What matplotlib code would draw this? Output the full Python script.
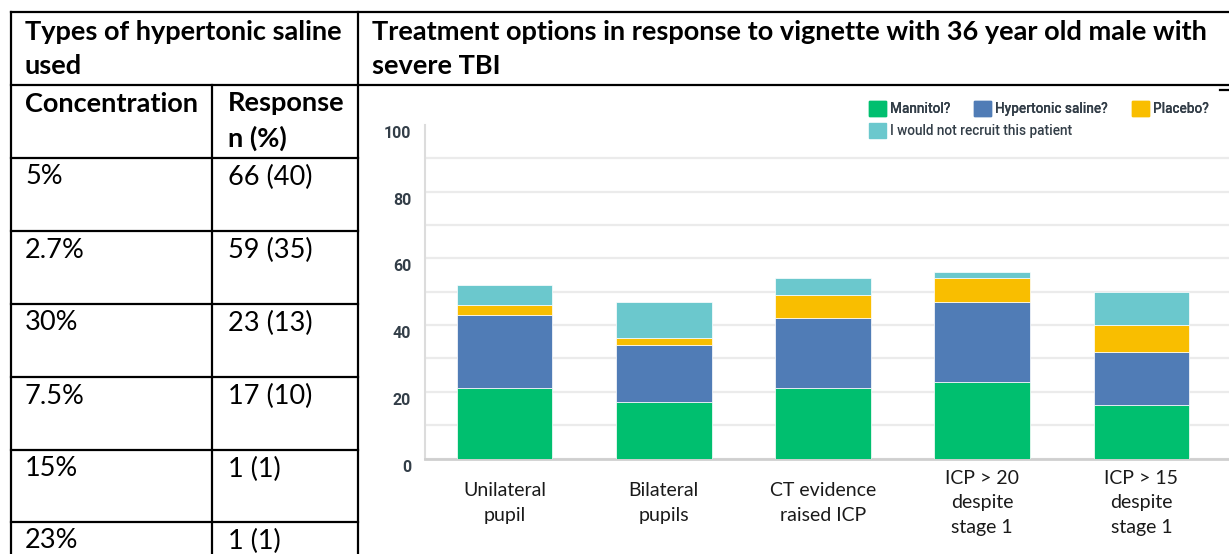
import matplotlib.pyplot as plt
import matplotlib.transforms as mtransforms
from matplotlib.patches import Patch
import numpy as np

# left table
table_title = "Types of hypertonic saline\nused"
col_heads = ["Concentration", "Response\nn (%)"]
concentrations = ["5%", "2.7%", "30%", "7.5%", "15%", "23%"]
responses = ["66 (40)", "59 (35)", "23 (13)", "17 (10)", "1 (1)", "1 (1)"]

# chart
chart_title = "Treatment options in response to vignette with 36 year old male with\nsevere TBI"
scenarios = ["Unilateral\npupil", "Bilateral\npupils", "CT evidence\nraised ICP",
             "ICP > 20\ndespite\nstage 1", "ICP > 15\ndespite\nstage 1"]
mannitol = [21, 17, 21, 23, 16]
hypertonic = [22, 17, 21, 24, 16]
placebo = [3, 2, 7, 7, 8]
no_recruit = [6, 11, 5, 2, 10]
series_names = ["Mannitol?", "Hypertonic saline?", "Placebo?", "I would not recruit this patient"]
colors = ["#00BF6F", "#507CB6", "#F9BE00", "#6BC8CD"]

W, H = 1229, 554
fig = plt.figure(figsize=(W / 100, H / 100), dpi=100)

# page layer in pixel coords
page = fig.add_axes([0, 0, 1, 1])
page.set_xlim(0, W)
page.set_ylim(H, 0)
page.axis("off")

lw = 1.6
row_lines = [158, 231, 304, 377, 450, 522]
page.plot([11, W], [12, 12], color="black", lw=lw)
page.plot([11, W], [85, 85], color="black", lw=lw)
page.plot([1220, W], [90, 90], color="black", lw=lw)
page.plot([11, 11], [12, H], color="black", lw=lw)
page.plot([358, 358], [12, H], color="black", lw=lw)
page.plot([212, 212], [85, H], color="black", lw=lw)
for y in row_lines:
    page.plot([11, 358], [y, y], color="black", lw=lw)

tfont = dict(family="Lato", fontsize=19.5, color="black")
page.text(25, 49, table_title, fontweight="bold", va="center", linespacing=1.5, **tfont)
page.text(372, 49, chart_title, fontweight="bold", va="center", linespacing=1.5, **tfont)
page.text(25, 104, col_heads[0], fontweight="bold", va="center", **tfont)
page.text(228, 121, col_heads[1], fontweight="bold", va="center", linespacing=1.5, **tfont)
for y, c, r in zip(row_lines, concentrations, responses):
    page.text(25, y + 19, c, va="center", **tfont)
    page.text(228, y + 19, r, va="center", **tfont)

# stacked bar chart
ax = fig.add_axes([425 / W, 1 - 458.5 / H, (W - 425) / W, (458.5 - 125) / H])
x = np.arange(len(scenarios))
bottom = np.zeros(len(scenarios))
handles = []
for vals, name, col in zip([mannitol, hypertonic, placebo, no_recruit], series_names, colors):
    ax.bar(x, vals, bottom=bottom, width=0.6, color=col, edgecolor="white", linewidth=0.5, zorder=3)
    bottom += np.array(vals)
    handles.append(Patch(facecolor=col, edgecolor=col, label=name))

ax.set_xlim(-0.5, 4.55)
ax.set_ylim(0, 100)
ax.set_yticks(range(0, 101, 20))
ax.set_yticks(range(10, 100, 20), minor=True)
ax.grid(axis="y", which="both", color="#EBEBEB", lw=1.6, zorder=0)
ax.yaxis.get_gridlines()[-1].set_visible(False)
ax.set_xticks(x)
ax.set_xticklabels(scenarios, family="Lato", fontsize=14, color="#1a1a1a", linespacing=1.55)
for t in ax.get_xticklabels():
    t.set_va("center")
ax.tick_params(axis="x", length=0, pad=32)
ax.tick_params(axis="y", which="both", length=0, pad=10, labelsize=11.5, labelcolor="#333E48")
shift = mtransforms.ScaledTranslation(0, -7 / 100, fig.dpi_scale_trans)
for t in ax.get_yticklabels():
    t.set_family("Roboto")
    t.set_fontweight("bold")
    t.set_transform(t.get_transform() + shift)
for s in ["top", "right"]:
    ax.spines[s].set_visible(False)
ax.spines["left"].set_color("#DCDCDC")
ax.spines["left"].set_linewidth(1.5)
ax.spines["bottom"].set_color("#CFCFCF")
ax.spines["bottom"].set_linewidth(2)
ax.set_facecolor("none")

leg_font = dict(family="Roboto", weight="medium", size=9.8)
leg1 = fig.legend(handles=handles[:3], ncol=3, loc="upper left",
                  bbox_to_anchor=(869 / W, 1 - 101 / H), frameon=False, prop=leg_font,
                  handlelength=1.25, handleheight=1.3, handletextpad=0.3, columnspacing=1.75,
                  borderpad=0, borderaxespad=0, labelcolor="#333E48")
fig.add_artist(leg1)
fig.legend(handles=handles[3:], loc="upper left",
           bbox_to_anchor=(869 / W, 1 - 123 / H), frameon=False, prop=leg_font,
           handlelength=1.25, handleheight=1.3, handletextpad=0.3,
           borderpad=0, borderaxespad=0, labelcolor="#333E48")

fig.savefig("out.png", dpi=100)
